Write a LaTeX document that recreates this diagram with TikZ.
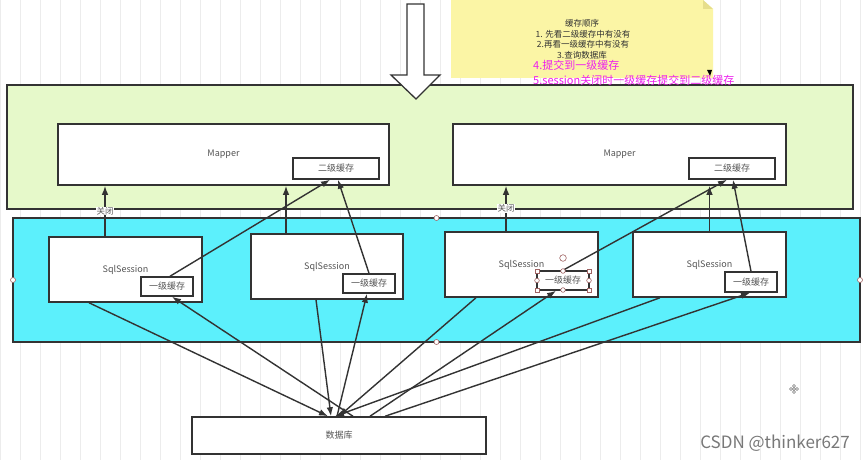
\documentclass[tikz,border=0pt]{standalone}
\usepackage{fontspec}
\setmainfont{Noto Sans CJK SC}
\usetikzlibrary{arrows.meta,calc}
\definecolor{linec}{RGB}{51,51,51}
\definecolor{greenf}{RGB}{230,249,202}
\definecolor{bluef}{RGB}{92,240,252}
\definecolor{notef}{RGB}{251,245,165}
\definecolor{foldf}{RGB}{230,222,140}
\definecolor{mag}{RGB}{238,30,238}
\definecolor{txt}{RGB}{85,85,85}
\definecolor{gridc}{RGB}{236,236,236}
\definecolor{handc}{RGB}{160,100,100}
\definecolor{wmark}{RGB}{120,120,120}
\begin{document}
\begin{tikzpicture}[x=1pt,y=-1pt,
  container/.style={draw=linec, line width=1.4pt, inner sep=0pt},
  box/.style={draw=linec, fill=white, line width=1.5pt, inner sep=0pt, font=\fontsize{9}{10}\selectfont, text=txt},
  conn/.style={draw=linec, line width=1.4pt, -{Latex[length=9pt,width=6.5pt]}},
  closelbl/.style={fill=white, inner sep=0.5pt, font=\fontsize{8.5}{9}\selectfont, text=txt},
  notetxt/.style={inner sep=0pt, font=\fontsize{8.5}{9}\selectfont, text=linec},
  magtxt/.style={inner sep=0pt, anchor=west, font=\fontsize{11}{12}\selectfont, text=mag},
  handle/.style={draw=handc, fill=white, line width=0.6pt},
]
\useasboundingbox (0,0) rectangle (865,460);
\fill[white] (0,0) rectangle (865,460);
\draw[gridc, line width=0.5pt, step=20] (0,0) grid (865,460);

% containers
\node[container, fill=greenf, minimum width=846pt, minimum height=124pt] (greenbox) at (430,147) {};
\draw[linec, fill=white, line width=1.3pt] (407,4) -- (424,4) -- (424,75) -- (440,75) -- (416,99) -- (391,75) -- (407,75) -- cycle;
\node[container, fill=bluef, minimum width=847pt, minimum height=124pt] (bluebox) at (436.5,280) {};

% note
\fill[notef] (451,0) -- (703,0) -- (713,9) -- (713,78) -- (451,78) -- cycle;
\fill[foldf] (703,0) -- (713,9) -- (703,9) -- cycle;
\fill[black] (707,70) -- (712,70) -- (710,76) -- cycle;
\node[notetxt] (n0) at (582,23) {缓存顺序};
\node[notetxt] (n1) at (583,34) {1. 先看二级缓存中有没有};
\node[notetxt] (n2) at (583,44) {2.再看一级缓存中有没有};
\node[notetxt] (n3) at (582,55) {3.查询数据库};
\node[magtxt] (n4) at (533,65) {4.提交到一级缓存};
\node[magtxt] (n5) at (533,80) {5.session关闭时一级缓存提交到二级缓存};

% mappers
\node[box, minimum width=331pt, minimum height=61pt] (m1) at (223.5,154.5) {Mapper};
\node[box, minimum width=86pt, minimum height=21pt] (c2a) at (336,168.5) {二级缓存};
\node[box, minimum width=333pt, minimum height=61pt] (m2) at (619.5,154.5) {Mapper};
\node[box, minimum width=86pt, minimum height=21pt] (c2b) at (732,168.5) {二级缓存};

% sessions
\node[box, minimum width=153pt, minimum height=65pt] (s1) at (125.5,269.5) {SqlSession};
\node[box, minimum width=52pt, minimum height=19pt] (c1a) at (167,286.5) {一级缓存};
\node[box, minimum width=152pt, minimum height=65pt] (s2) at (327,266.5) {SqlSession};
\node[box, minimum width=52pt, minimum height=19pt] (c1b) at (369,283.5) {一级缓存};
\node[box, minimum width=153pt, minimum height=65pt] (s3) at (521.5,264.5) {SqlSession};
\node[box, minimum width=52pt, minimum height=19pt] (c1c) at (563,280.5) {一级缓存};
\node[box, minimum width=153pt, minimum height=65pt] (s4) at (709.5,264.5) {SqlSession};
\node[box, minimum width=52pt, minimum height=20pt] (c1d) at (751,282) {一级缓存};

% database
\node[box, minimum width=294pt, minimum height=37pt] (db) at (339,435.5) {数据库};

% session -> mapper
\draw[conn] ([xshift=-20.5pt]s1.north) -- ([xshift=-20.5pt]s1.north |- m1.south) node[closelbl, midway] {关闭};
\draw[conn] ([xshift=-41pt]s2.north) -- ([xshift=-41pt]s2.north |- m1.south);
\draw[conn] ([xshift=3pt]c1a.north) -- ([xshift=-6pt]c2a.south);
\draw[conn] (c1b.north) -- ([xshift=2pt]c2a.south);
\draw[conn] ([xshift=-15.5pt]s3.north) -- ([xshift=-15.5pt]s3.north |- m2.south) node[closelbl, midway] {关闭};
\draw[conn] (s4.north) -- (s4.north |- m2.south);
\draw[conn] (c1c.north) -- ([xshift=-5pt]c2b.south);
\draw[conn] (c1d.north) -- ([xshift=1pt]c2b.south);

% session -> database
\draw[conn] ([xshift=-36.5pt]s1.south) -- ([xshift=-11pt]db.north);
\draw[conn] ([xshift=-11pt]s2.south) -- ([xshift=-8pt]db.north);
\draw[conn] ([xshift=-45.5pt]s3.south) -- ([xshift=0pt]db.north);
\draw[conn] ([xshift=-49.5pt]s4.south) -- ([xshift=-4pt]db.north);

% database -> first-level caches
\draw[conn] ([xshift=14pt]db.north) -- ([xshift=5pt]c1a.south);
\draw[conn] ([xshift=-2pt]db.north) -- ([xshift=-2pt]c1b.south);
\draw[conn] ([xshift=31pt]db.north) -- ([xshift=-7pt]c1c.south);
\draw[conn] ([xshift=46pt]db.north) -- ([xshift=-1pt]c1d.south);

% selection handles
\foreach \px/\py in {13/280,436.5/218,436.5/342,860/280} \draw[handle] (\px,\py) circle (2.5);
\foreach \px/\py in {537/271,589/271,537/290,589/290} \draw[handle] (\px-2,\py-2) rectangle (\px+2,\py+2);
\foreach \px/\py in {563/271,563/290,537/280.5,589/280.5} \draw[handle] (\px,\py) circle (2.3);
\draw[handle] (563,258) circle (3.3);

% move icon
\foreach \px/\py in {791/389,797/389,794/386,794/392,794/389} \draw[wmark, line width=0.5pt] (\px,\py) circle (1.5);

% watermark
\node[anchor=east, inner sep=0pt, text=wmark, font=\fontsize{17}{18}\selectfont] (wm) at (850,443) {CSDN @thinker627};
\end{tikzpicture}
\end{document}
